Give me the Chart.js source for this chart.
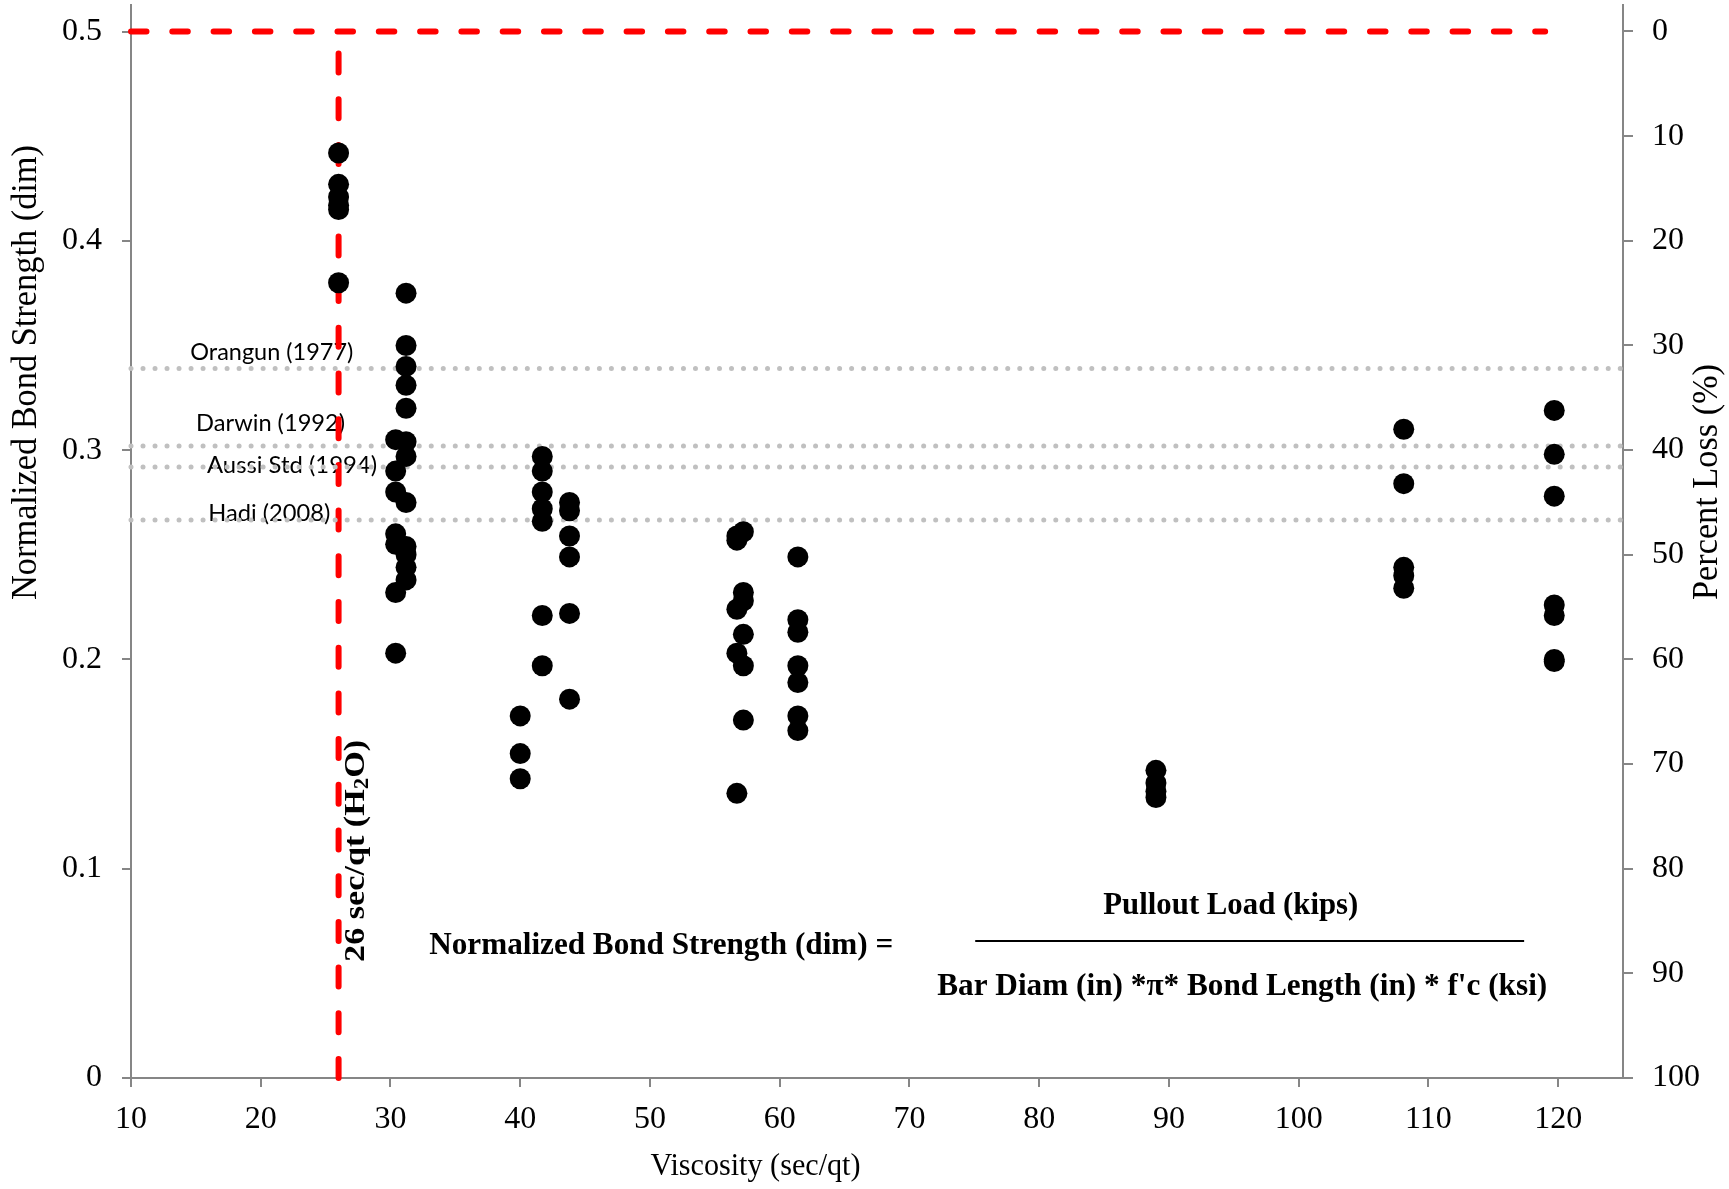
<!DOCTYPE html>
<html>
<head>
<meta charset="utf-8">
<script src="https://cdn.jsdelivr.net/npm/chart.js@4.4.1/dist/chart.umd.min.js"></script>
<style>
  html, body { margin: 0; padding: 0; background: #ffffff; }
  #wrap { width: 1729px; height: 1189px; position: relative; }
</style>
</head>
<body>
<div id="wrap"><canvas id="c" width="1729" height="1189"></canvas></div>
<script>
// ---------------- data ----------------
const xTicks = [10, 20, 30, 40, 50, 60, 70, 80, 90, 100, 110, 120];
const yTicks = [0, 0.1, 0.2, 0.3, 0.4, 0.5];
const yTickLabels = ['0', '0.1', '0.2', '0.3', '0.4', '0.5'];
const lossTicks = [0, 10, 20, 30, 40, 50, 60, 70, 80, 90, 100];
const lossTickLabels = ['0', '10', '20', '30', '40', '50', '60', '70', '80', '90', '100'];

// viscosity (sec/qt) of each test group
const groupViscosity = [26.0, 30.4, 31.2, 40.0, 41.7, 43.8, 56.7, 57.2, 61.4, 89.0, 108.1, 119.7];
// normalized bond strength values in each group
const bond26  = [0.442, 0.427, 0.421, 0.417, 0.415, 0.380];
const bond304 = [0.305, 0.290, 0.280, 0.260, 0.255, 0.232, 0.203];
const bond312 = [0.375, 0.350, 0.340, 0.331, 0.320, 0.304, 0.297, 0.275, 0.254, 0.250, 0.244, 0.238];
const bond400 = [0.173, 0.155, 0.143];
const bond417 = [0.297, 0.290, 0.280, 0.272, 0.266, 0.221, 0.197];
const bond438 = [0.275, 0.271, 0.259, 0.249, 0.222, 0.181];
const bond567 = [0.259, 0.257, 0.224, 0.203, 0.136];
const bond572 = [0.261, 0.232, 0.228, 0.212, 0.197, 0.171];
const bond614 = [0.249, 0.219, 0.213, 0.197, 0.189, 0.173, 0.166];
const bond890 = [0.147, 0.141, 0.137, 0.134];
const bond1081 = [0.310, 0.284, 0.244, 0.240, 0.234];
const bond1197 = [0.319, 0.298, 0.278, 0.226, 0.221, 0.200, 0.199];
const groupStrength = [bond26, bond304, bond312, bond400, bond417, bond438,
                       bond567, bond572, bond614, bond890, bond1081, bond1197];

// code reference bond strengths (horizontal dotted lines)
const refNames  = ['Orangun (1977)', 'Darwin (1992)', 'Aussi Std (1994)', 'Hadi (2008)'];
const refValues = [0.339, 0.302, 0.292, 0.2666];

// red dashed reference: water viscosity and bond limit
const waterViscosity = 26;
const strengthLimit = 0.5;
const limitLineEnd = 119;

// ---------------- build ----------------
const scatterPts = [];
groupViscosity.forEach((v, i) => groupStrength[i].forEach(s => scatterPts.push({ x: v, y: s })));

const serif = '"Liberation Serif", "Times New Roman", serif';
const axisGrey = '#868686';

const datasets = [
  {
    type: 'scatter', label: 'data', data: scatterPts,
    backgroundColor: '#000000', borderColor: '#000000', borderWidth: 0,
    pointRadius: 10.5, pointHoverRadius: 10.5, order: 0, yAxisID: 'y'
  }
];
refValues.forEach((v, i) => {
  datasets.push({
    type: 'line', label: refNames[i], data: [{ x: 10, y: v }, { x: 125, y: v }],
    borderColor: '#c0c0c0', borderWidth: 5, borderDash: [0.01, 12], borderCapStyle: 'round',
    pointRadius: 0, fill: false, order: 1, yAxisID: 'y', clip: 6
  });
});
datasets.push({
  type: 'line', label: 'limit', data: [{ x: 10, y: strengthLimit }, { x: limitLineEnd, y: strengthLimit }],
  borderColor: '#ff0000', borderWidth: 6, borderDash: [15.5, 25.8], borderCapStyle: 'round',
  pointRadius: 0, fill: false, order: 2, yAxisID: 'y', clip: 8
});
datasets.push({
  type: 'line', label: 'water', data: [{ x: waterViscosity, y: 0 }, { x: waterViscosity, y: strengthLimit }],
  borderColor: '#ff0000', borderWidth: 6, borderDash: [19, 26.7], borderCapStyle: 'round',
  pointRadius: 0, fill: false, order: 2, yAxisID: 'y', clip: 8
});

function fitText(ctx, text, x, y, font, targetW, rot) {
  ctx.save();
  ctx.font = font;
  const w = ctx.measureText(text).width;
  ctx.translate(x, y);
  if (rot) ctx.rotate(rot);
  ctx.scale(targetW / w, 1);
  ctx.textAlign = 'center';
  ctx.textBaseline = 'middle';
  ctx.fillStyle = '#000000';
  ctx.fillText(text, 0, 0);
  ctx.restore();
}

const textPlugin = {
  id: 'texts',
  beforeDatasetsDraw(chart) {
    const ctx = chart.ctx, xs = chart.scales.x, ys = chart.scales.y;
    const labelPos = [[20.85, 0.3464, 163], [20.76, 0.3125, 149], [22.41, 0.2924, 170], [20.66, 0.2695, 122]];
    refNames.forEach((n, i) => {
      const p = labelPos[i];
      fitText(ctx, n, xs.getPixelForValue(p[0]), ys.getPixelForValue(p[1]),
        '23px Lato, "Open Sans", sans-serif', p[2], 0);
    });
  },
  afterDraw(chart) {
    const ctx = chart.ctx, xs = chart.scales.x, ys = chart.scales.y;
    // axis titles
    fitText(ctx, 'Normalized Bond Strength (dim)', 27, 372.5, '35px ' + serif, 455, -Math.PI / 2);
    fitText(ctx, 'Percent Loss (%)', 1708, 482, '35px ' + serif, 236, -Math.PI / 2);
    fitText(ctx, 'Viscosity (sec/qt)', 755.5, 1167, '31px ' + serif, 210, 0);
    // formula
    const bold = 'bold 32px ' + serif;
    fitText(ctx, 'Normalized Bond Strength (dim) =', xs.getPixelForValue(50.87), ys.getPixelForValue(0.0631), bold, 464, 0);
    fitText(ctx, 'Pullout Load (kips)', xs.getPixelForValue(94.77), ys.getPixelForValue(0.0822), bold, 255, 0);
    fitText(ctx, "Bar Diam (in) *\u03C0* Bond Length (in) * f'c (ksi)", xs.getPixelForValue(95.65), ys.getPixelForValue(0.0435), bold, 610, 0);
    ctx.save();
    ctx.strokeStyle = '#000000';
    ctx.lineWidth = 2;
    const fy = Math.round(ys.getPixelForValue(0.0656));
    ctx.beginPath();
    ctx.moveTo(xs.getPixelForValue(75.07), fy);
    ctx.lineTo(xs.getPixelForValue(117.38), fy);
    ctx.stroke();
    ctx.restore();
    // vertical water label with subscript
    ctx.save();
    const cx = xs.getPixelForValue(27.36), cy = ys.getPixelForValue(0.1085);
    const fMain = 'bold 30px ' + serif, fSub = 'bold 20px ' + serif;
    const parts = [['26 sec/qt (H', fMain, 0], ['2', fSub, 7], ['O)', fMain, 0]];
    let total = 0;
    parts.forEach(p => { ctx.font = p[1]; p.push(ctx.measureText(p[0]).width); total += p[3]; });
    ctx.translate(cx, cy);
    ctx.rotate(-Math.PI / 2);
    ctx.scale(222 / total, 1);
    ctx.fillStyle = '#000000';
    ctx.textBaseline = 'middle';
    ctx.textAlign = 'left';
    let xx = -total / 2;
    parts.forEach(p => { ctx.font = p[1]; ctx.fillText(p[0], xx, p[2]); xx += p[3]; });
    ctx.restore();
  }
};

const gridOpts = { drawOnChartArea: false, drawTicks: true, color: axisGrey, lineWidth: 2 };
const tickFont = { family: serif, size: 32 };
function noPad(s) { s.paddingTop = 0; s.paddingBottom = 0; s.paddingLeft = 0; s.paddingRight = 0; }

new Chart(document.getElementById('c'), {
  data: { datasets },
  options: {
    responsive: false,
    animation: false,
    devicePixelRatio: 1,
    layout: { autoPadding: false, padding: { top: 5, left: 0, right: 0, bottom: 0 } },
    plugins: { legend: { display: false }, tooltip: { enabled: false } },
    events: [],
    scales: {
      x: {
        type: 'linear', position: 'bottom', min: 10, max: 125,
        afterBuildTicks: s => { s.ticks = xTicks.map(v => ({ value: v })); },
        afterFit: s => { s.height = 111; noPad(s); },
        grid: Object.assign({ tickLength: 9 }, gridOpts),
        border: { display: true, color: axisGrey, width: 2 },
        ticks: { color: '#000', font: tickFont, padding: 13, maxRotation: 0, autoSkip: false,
                 callback: v => String(v) }
      },
      y: {
        type: 'linear', position: 'left', min: 0, max: 0.5127,
        afterBuildTicks: s => { s.ticks = yTicks.map(v => ({ value: v })); },
        afterFit: s => { s.width = 131; noPad(s); },
        grid: Object.assign({ tickLength: 9 }, gridOpts),
        border: { display: true, color: axisGrey, width: 2 },
        ticks: { color: '#000', font: tickFont, padding: 20, autoSkip: false,
                 callback: (v, i) => yTickLabels[i] }
      },
      y2: {
        type: 'linear', position: 'right', reverse: true, min: -2.53, max: 100,
        afterBuildTicks: s => { s.ticks = lossTicks.map(v => ({ value: v })); },
        afterFit: s => { s.width = 106; noPad(s); },
        grid: Object.assign({ tickLength: 10 }, gridOpts),
        border: { display: true, color: axisGrey, width: 2 },
        ticks: { color: '#000', font: tickFont, padding: 19, autoSkip: false,
                 callback: (v, i) => lossTickLabels[i] }
      }
    }
  },
  plugins: [textPlugin]
});
</script>
</body>
</html>
